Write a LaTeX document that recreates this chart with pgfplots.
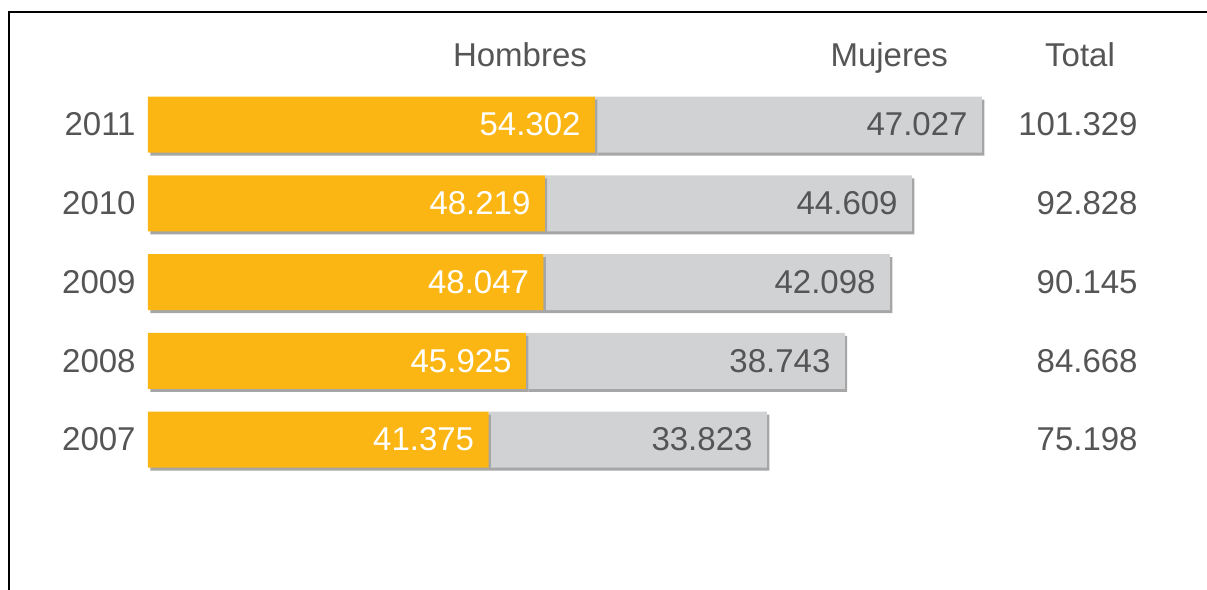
\documentclass[border=0pt]{standalone}
\usepackage{pgfplots}
\pgfplotsset{compat=1.18}
\usepackage{pgfplotstable}
\usepackage{fontspec}
\setmainfont{Liberation Sans}
\usetikzlibrary{shadows}
\definecolor{hom}{HTML}{FCB614}
\definecolor{muj}{HTML}{D1D2D4}
\definecolor{txt}{HTML}{555555}
\pgfplotstableread{
pos h m t hl ml
0 41375 33823 75198 41.375 33.823
1 45925 38743 84668 45.925 38.743
2 48047 42098 90145 48.047 42.098
3 48219 44609 92828 48.219 44.609
4 54302 47027 101329 54.302 47.027
}\datatab
\begin{document}
\begin{tikzpicture}
\path[use as bounding box] (0,0) rectangle (603.5pt,295pt);
\draw[line width=1.2pt] (4.5pt,0) -- (4.5pt,289pt) -- (603.5pt,289pt);
\begin{axis}[
  at={(74pt,55.55pt)}, anchor=south west,
  scale only axis, width=500pt, height=196.875pt,
  xmin=0, xmax=121507, ymin=-0.5, ymax=4.5,
  xbar stacked, bar width=28pt,
  axis line style={draw=none},
  xtick=\empty, ytick={0,1,2,3,4},
  yticklabels={2007,2008,2009,2010,2011},
  major tick length=0pt,
  yticklabel style={font=\fontsize{16.5}{18}\selectfont, text=txt, inner sep=0pt, xshift=-6pt},
  /pgf/number format/assume math mode=true,
  clip=false,
]
\addplot[fill=hom, draw=none,
  drop shadow={shadow xshift=1.2pt, shadow yshift=-1.5pt, fill=black!35, opacity=1}]
  table[x=h, y=pos] {\datatab};
\addplot[fill=muj, draw=none,
  drop shadow={shadow xshift=1.2pt, shadow yshift=-1.5pt, fill=black!35, opacity=1}]
  table[x=m, y=pos] {\datatab};
\node[anchor=base, text=txt, font=\fontsize{16.5}{18}\selectfont] at (axis cs:45200,4.743) {Hombres};
\node[anchor=base east, text=txt, font=\fontsize{16.5}{18}\selectfont] at (axis cs:98055,4.743) {Mujeres};
\node[anchor=base, text=txt, font=\fontsize{16.5}{18}\selectfont] at (axis cs:113244,4.743) {Total};
\end{axis}
\begin{axis}[
  at={(74pt,55.55pt)}, anchor=south west,
  scale only axis, width=500pt, height=196.875pt,
  xmin=0, xmax=121507, ymin=-0.5, ymax=4.5,
  axis line style={draw=none},
  xtick=\empty, ytick={0,1,2,3,4},
  yticklabel pos=right,
  yticklabels={75.198,84.668,90.145,92.828,101.329},
  major tick length=0pt,
  yticklabel style={font=\fontsize{16.5}{18}\selectfont, text=txt, inner sep=0pt, anchor=east, xshift=-5pt},
  /pgf/number format/assume math mode=true,
  clip=false,
]
\addplot[draw=none, mark=none,
  nodes near coords, point meta=explicit symbolic,
  nodes near coords style={anchor=east, inner sep=0pt, xshift=-7pt, text=white, font=\fontsize{16.5}{18}\selectfont}]
  table[x=h, y=pos, meta=hl] {\datatab};
\addplot[draw=none, mark=none,
  nodes near coords, point meta=explicit symbolic,
  nodes near coords style={anchor=east, inner sep=0pt, xshift=-7pt, text=txt, font=\fontsize{16.5}{18}\selectfont}]
  table[x=t, y=pos, meta=ml] {\datatab};
\end{axis}
\end{tikzpicture}
\end{document}
